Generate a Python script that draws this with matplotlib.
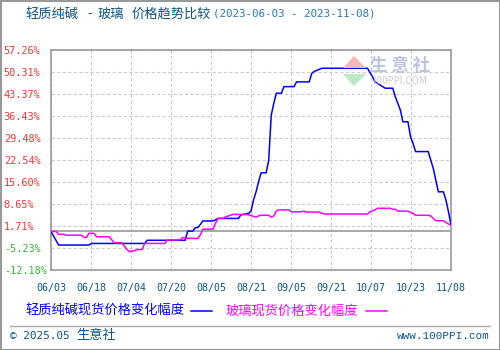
import matplotlib
matplotlib.use('Agg')
import matplotlib.pyplot as plt
from matplotlib.patches import Polygon, Rectangle
from matplotlib.lines import Line2D

plt.rcParams['font.family'] = ['Noto Sans CJK SC', 'DejaVu Sans']

# days counted from 2023-06-03
soda_days = [0, 3, 15, 16, 37, 38, 53, 54, 56, 57, 58, 59, 60, 64, 66, 74, 75, 78,
             79, 80, 81, 82, 83, 85, 86, 87, 88, 89, 91, 92, 96, 97, 102, 103, 104,
             107, 125, 127, 128, 132, 135, 136, 138, 139, 141, 142, 143, 144, 149,
             150, 151, 152, 153, 155, 156, 157, 158]
soda_vals = [0.0, -4.3, -4.3, -3.8, -3.8, -2.8, -2.8, 0.1, 0.1, 1.2, 1.2, 2.2, 3.3, 3.3,
             4.1, 4.1, 5.2, 5.7, 6.4, 9.9, 12.5, 15.7, 18.5, 18.5, 22.5, 36.7, 40.4,
             43.6, 43.6, 45.7, 45.7, 47.2, 47.2, 49.9, 50.5, 51.5, 51.5, 48.8, 47.2,
             45.2, 45.2, 42.5, 38.3, 34.6, 34.6, 29.9, 27.8, 25.2, 25.2, 22.5, 19.9,
             16.2, 12.5, 12.5, 9.9, 6.2, 2.0]

glass_days = [0, 2, 3, 5, 6, 12, 13, 14, 15, 17, 18, 23, 25, 28, 30, 31, 33, 34, 36,
              37, 45, 46, 51, 52, 54, 58, 59, 60, 64, 65, 66, 68, 69, 72, 78, 79, 81,
              82, 83, 86, 87, 88, 89, 90, 94, 95, 99, 100, 101, 106, 107, 108, 125,
              126, 128, 129, 134, 135, 136, 137, 141, 143, 144, 149, 150, 151, 152,
              155, 157, 158]
glass_vals = [0.0, 0.0, -0.9, -0.9, -1.2, -1.2, -1.9, -1.9, -0.6, -0.6, -1.7, -1.7,
              -3.6, -3.6, -5.7, -6.4, -6.1, -5.7, -5.7, -3.8, -3.8, -2.7, -2.7, -1.9,
              -2.2, -2.2, -1.1, 0.7, 0.7, 2.6, 4.1, 4.1, 4.6, 5.4, 5.3, 5.0, 4.5, 4.9,
              5.1, 5.1, 4.5, 4.9, 6.4, 6.8, 6.8, 6.2, 6.2, 6.4, 6.1, 6.1, 5.7, 5.5,
              5.5, 6.2, 6.8, 7.3, 7.3, 7.0, 7.0, 6.4, 6.4, 5.7, 5.1, 5.1, 4.9, 4.1,
              3.4, 3.4, 2.3, 2.1]

x_labels = ['06/03', '06/18', '07/04', '07/20', '08/05', '08/21', '09/05', '09/21',
            '10/07', '10/23', '11/08']
y_labels = ['-12.18%', '-5.23%', '1.71%', '8.65%', '15.60%', '22.54%', '29.48%',
            '36.43%', '43.37%', '50.31%', '57.26%']
y_min, y_max = -12.18, 57.26
n_days = 158

fig = plt.figure(figsize=(5, 3.5), dpi=100)
ax = fig.add_axes([51 / 500, 1 - 270 / 350, 400 / 500, 220 / 350])

ax.plot(soda_days, soda_vals, color='#0000ff', lw=1.1, zorder=3)
ax.plot(glass_days, glass_vals, color='#ff00ff', lw=1.1, zorder=3)
ax.axhline(0, color='#999999', lw=1.2, zorder=2)

ax.set_xlim(0, n_days)
ax.set_ylim(y_min, y_max)
xt = [i * n_days / 10 for i in range(11)]
yt = [y_min + i * (y_max - y_min) / 10 for i in range(11)]
ax.set_xticks(xt)
ax.set_xticklabels(x_labels, family='DejaVu Sans Mono', fontsize=7.2, color='#0b5688')
ax.set_yticks(yt)
ax.set_yticklabels(y_labels, family='DejaVu Sans Mono', fontsize=7.4)
for lab, v in zip(ax.get_yticklabels(), yt):
    lab.set_horizontalalignment('left')
    lab.set_color('#ff3333' if v > 0 else '#33bb33')
ax.tick_params(axis='y', length=0, pad=34)
ax.tick_params(axis='x', length=0, pad=9)
ax.grid(True, color='#cccccc', ls=(0, (3, 2)), lw=0.8)
for s in ax.spines.values():
    s.set_color('#999999')
    s.set_linewidth(1.2)

# title
ty = 1 - 14 / 350
fig.text(25 / 500, ty, '轻质纯碱', fontsize=9.5, color='#0b5688', va='center')
fig.text(90 / 500, ty, '-', fontsize=9.5, color='#0b5688', va='center', ha='center')
fig.text(97 / 500, ty, '玻璃', fontsize=9.5, color='#0b5688', va='center')
fig.text(132 / 500, ty, '价格趋势比较', fontsize=9.5, color='#0b5688', va='center')
fig.text(213 / 500, ty, '(2023-06-03 - 2023-11-08)', fontsize=7.8,
         family='DejaVu Sans Mono', color='#2a7ab0', va='center')

# watermark
fig.patches.append(Polygon([[343 / 500, 1 - 68 / 350], [354 / 500, 1 - 56 / 350],
                            [366 / 500, 1 - 68 / 350]], closed=True,
                           transform=fig.transFigure, fc='#f4b8b8', ec='none'))
fig.patches.append(Polygon([[343 / 500, 1 - 74 / 350], [354 / 500, 1 - 86 / 350],
                            [366 / 500, 1 - 74 / 350]], closed=True,
                           transform=fig.transFigure, fc='#bde8c4', ec='none'))
fig.text(400 / 500, 1 - 66 / 350, '生 意 社', fontsize=12.5, color='#bcc5de',
         ha='center', va='center', weight='bold')
fig.text(399 / 500, 1 - 81 / 350, '100PPI.COM', fontsize=7, color='#cccccc',
         ha='center', va='center')

# legend
ly = 1 - 311 / 350
fig.text(25 / 500, ly, '轻质纯碱现货价格变化幅度', fontsize=9.5, color='#0000ff',
         va='center')
fig.add_artist(Line2D([191 / 500, 212 / 500], [ly, ly], color='#0000ff', lw=1.1))
fig.text(226 / 500, ly, '玻璃现货价格变化幅度', fontsize=9.5, color='#ff00ff',
         va='center')
fig.add_artist(Line2D([366 / 500, 387 / 500], [ly, ly], color='#ff00ff', lw=1.1))

# footer
fy = 1 - 336 / 350
fig.add_artist(Line2D([10 / 500, 490 / 500], [1 - 326 / 350, 1 - 326 / 350],
                      color='#aaaaaa', lw=1))
fig.text(10 / 500, fy, '© 2025.05', fontsize=7.9, family='DejaVu Sans Mono',
         color='#0b5688', va='center')
fig.text(76 / 500, fy, '生意社', fontsize=9.5, color='#0b5688', va='center')
fig.text(490 / 500, fy, 'www.100PPI.com', fontsize=7.9,
         family='Liberation Mono', color='#0b5688', va='center', ha='right')

fig.patches.append(Rectangle((0.001, 0.001), 0.998, 0.997, transform=fig.transFigure,
                             fill=False, ec='#999999', lw=1.5))

fig.savefig('out.png', dpi=100)
